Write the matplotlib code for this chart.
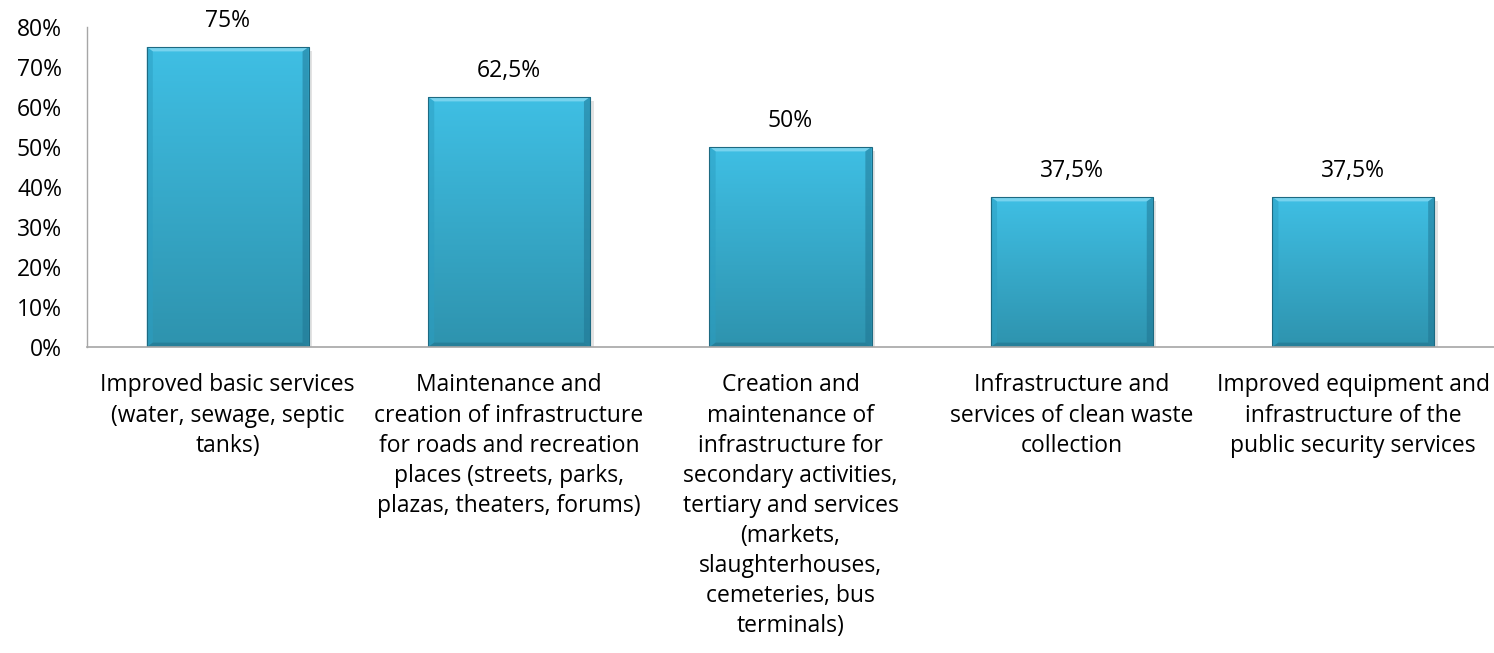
import matplotlib
matplotlib.use("Agg")
import matplotlib.pyplot as plt
import numpy as np
from matplotlib.patches import Polygon
from matplotlib.ticker import FuncFormatter

categories = [
    "Improved basic services\n(water, sewage, septic\ntanks)",
    "Maintenance and\ncreation of infrastructure\nfor roads and recreation\nplaces (streets, parks,\nplazas, theaters, forums)",
    "Creation and\nmaintenance of\ninfrastructure for\nsecondary activities,\ntertiary and services\n(markets,\nslaughterhouses,\ncemeteries, bus\nterminals)",
    "Infrastructure and\nservices of clean waste\ncollection",
    "Improved equipment and\ninfrastructure of the\npublic security services",
]
values = [0.75, 0.625, 0.50, 0.375, 0.375]
value_labels = ["75%", "62,5%", "50%", "37,5%", "37,5%"]
yticks = [0, 0.1, 0.2, 0.3, 0.4, 0.5, 0.6, 0.7, 0.8]

plt.rcParams['font.family'] = ['Open Sans', 'DejaVu Sans']
FS = 16.5

fig = plt.figure(figsize=(14.94, 6.53), dpi=100)
ax = fig.add_axes([87/1494, 1-347/653, 1-87/1494, 320/653])

x = np.arange(len(values))
width = 0.576
bars = ax.bar(x, values, width=width, color="#37aed1", edgecolor="none", zorder=2)
ax.set_xlim(-0.5, len(values) - 0.5)
ax.set_ylim(0, 0.8)

# gradient fill + bevel
top_c = np.array([0x3f, 0xbf, 0xe4]) / 255
bot_c = np.array([0x2e, 0x93, 0xae]) / 255
grad = np.linspace(0, 1, 256)[:, None]
img = top_c[None, None, :] * (1 - grad[:, :, None]) + bot_c[None, None, :] * grad[:, :, None]
bx = 0.022  # bevel in x data units
by = 0.011  # bevel in y data units
for b in bars:
    x0, y0 = b.get_x(), b.get_y()
    w, h = b.get_width(), b.get_height()
    sh = Polygon([(x0 + 0.01, y0 - 0.006), (x0 + w + 0.012, y0 - 0.006),
                  (x0 + w + 0.012, y0 + h - 0.01), (x0 + w, y0 + h - 0.01),
                  (x0 + w, y0), (x0 + 0.01, y0)],
                 closed=True, facecolor="#c8c8c8", edgecolor="none", alpha=0.5, zorder=1)
    ax.add_patch(sh)
    im = ax.imshow(img, extent=[x0, x0 + w, y0, y0 + h], aspect="auto", zorder=2.1)
    im.set_clip_path(b)
    ax.add_patch(Polygon([(x0, y0 + h), (x0 + w, y0 + h), (x0 + w - bx, y0 + h - by), (x0 + bx, y0 + h - by)],
                         closed=True, facecolor="#86d9f2", edgecolor="none", alpha=0.8, zorder=2.2))
    ax.add_patch(Polygon([(x0, y0 + h), (x0 + bx, y0 + h - by), (x0 + bx, y0 + by), (x0, y0)],
                         closed=True, facecolor="#2c9ec2", edgecolor="none", alpha=0.5, zorder=2.2))
    ax.add_patch(Polygon([(x0 + w, y0 + h), (x0 + w - bx, y0 + h - by), (x0 + w - bx, y0 + by), (x0 + w, y0)],
                         closed=True, facecolor="#1f7390", edgecolor="none", alpha=0.5, zorder=2.2))
    ax.add_patch(Polygon([(x0, y0), (x0 + bx, y0 + by), (x0 + w - bx, y0 + by), (x0 + w, y0)],
                         closed=True, facecolor="#1f6d86", edgecolor="none", alpha=0.5, zorder=2.2))
    ax.add_patch(Polygon([(x0, y0), (x0, y0 + h), (x0 + w, y0 + h), (x0 + w, y0)],
                         closed=True, facecolor="none", edgecolor="#1d6a82", linewidth=0.8, zorder=2.3))

for xi, v, lab in zip(x, values, value_labels):
    ax.text(xi, v + 0.066, lab, ha="center", va="center", fontsize=FS, color="black")

ax.set_yticks(yticks)
ax.yaxis.set_major_formatter(FuncFormatter(lambda v, p: f"{v*100:.0f}%"))
ax.set_xticks(x)
ax.set_xticklabels(categories, fontsize=FS, linespacing=1.34, va="top")
ax.tick_params(axis="y", labelsize=FS, length=0, pad=18)
ax.tick_params(axis="x", length=0, pad=19)
for s in ["top", "right"]:
    ax.spines[s].set_visible(False)
ax.spines["left"].set_color("#a6a6a6")
ax.spines["bottom"].set_color("#a6a6a6")
ax.spines["left"].set_linewidth(1.0)
ax.spines["bottom"].set_linewidth(1.2)

fig.savefig("out.png", dpi=100)
